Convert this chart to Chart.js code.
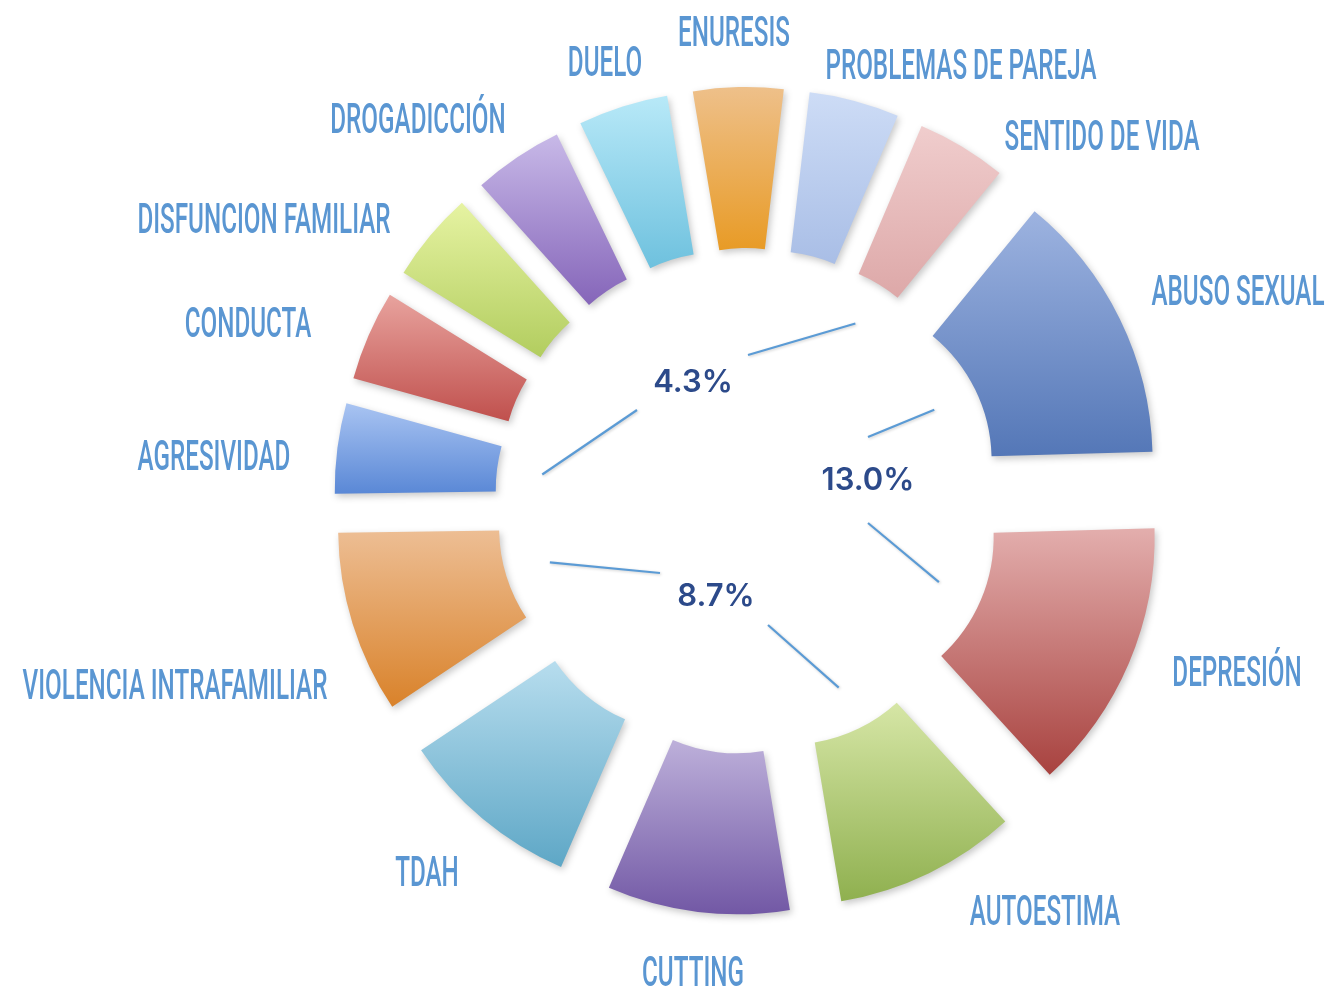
<!DOCTYPE html>
<html>
<head>
<meta charset="utf-8">
<script src="https://cdn.jsdelivr.net/npm/chart.js@4.4.1/dist/chart.umd.min.js"></script>
<style>
  html, body { margin: 0; padding: 0; background: #ffffff; }
  #wrap { width: 1332px; height: 996px; position: relative; }
</style>
</head>
<body>
<div id="wrap"><canvas id="c"></canvas></div>
<script>
// ---------- DATA ----------
const categories = [
  'ABUSO SEXUAL', 'DEPRESIÓN', 'AUTOESTIMA', 'CUTTING', 'TDAH',
  'VIOLENCIA INTRAFAMILIAR', 'AGRESIVIDAD', 'CONDUCTA', 'DISFUNCION FAMILIAR',
  'DROGADICCIÓN', 'DUELO', 'ENURESIS', 'PROBLEMAS DE PAREJA', 'SENTIDO DE VIDA'
];
const percentValues = [13.0, 13.0, 8.7, 8.7, 8.7, 8.7, 4.3, 4.3, 4.3, 4.3, 4.3, 4.3, 4.3, 4.3];
// which slices each shared percentage label points to
const calloutTargets = [[13, 6], [0, 1], [5, 2]];

// ---------- STYLE / LAYOUT ----------
const sliceGradients = [
  ['#9DB3E0', '#5477B7'],
  ['#E3AEAD', '#A8423F'],
  ['#D6E6A6', '#8FB04F'],
  ['#BDB0DA', '#7258A5'],
  ['#B7DDEE', '#5EA7C6'],
  ['#EDBE94', '#D9822A'],
  ['#A9C4F2', '#5A88D6'],
  ['#E8A39E', '#C0504D'],
  ['#E6F3A2', '#B2CD5F'],
  ['#C8B9E8', '#8565B9'],
  ['#B8E9F8', '#6EC1DE'],
  ['#EEC08A', '#E89B26'],
  ['#CDDCF6', '#A9BEE6'],
  ['#F0CDCD', '#DDA8A8']
];
const RADIUS = 322;
const EXPLODE = 92;
// category label centres, relative to chart centre, in units of RADIUS
const labelOffsets = [
  [490, -211], [489, 170], [297, 409], [-55, 470], [-321, 370],
  [-573, 183], [-534, -46], [-500, -179], [-484, -283], [-330, -383],
  [-143, -440], [-14, -470], [213, -437], [354, -366]
].map(p => [p[0] / RADIUS, p[1] / RADIUS]);
// percentage label centres, relative to chart centre, in units of RADIUS
const calloutOffsets = [[-55, -118], [120, -20], [-32, 96]].map(p => [p[0] / RADIUS, p[1] / RADIUS]);
// leader-line start points, relative to each percentage label centre (px)
const leaderStarts = [[[55, -28], [-56, 27]], [[0, -44], [0, 42]], [[-56, -24], [52, 28]]];

const explodePlugin = {
  id: 'explode',
  afterDatasetUpdate(chart, args) {
    const meta = chart.getDatasetMeta(args.index);
    meta.data.forEach((el, i) => {
      if (el._patched) return;
      el._patched = true;
      el.draw = function (ctx) {
        const mid = (this.startAngle + this.endAngle) / 2;
        const ox = Math.cos(mid) * EXPLODE, oy = Math.sin(mid) * EXPLODE;
        let ymin = Infinity, ymax = -Infinity;
        for (let k = 0; k <= 24; k++) {
          const a = this.startAngle + (this.endAngle - this.startAngle) * k / 24;
          for (const r of [this.innerRadius, this.outerRadius]) {
            const y = this.y + Math.sin(a) * r;
            ymin = Math.min(ymin, y); ymax = Math.max(ymax, y);
          }
        }
        const g = ctx.createLinearGradient(0, ymin, 0, ymax);
        g.addColorStop(0, sliceGradients[i][0]);
        g.addColorStop(1, sliceGradients[i][1]);
        ctx.save();
        ctx.translate(ox, oy);
        ctx.shadowColor = 'rgba(0,0,0,0.22)';
        ctx.shadowBlur = 7;
        ctx.shadowOffsetX = 2;
        ctx.shadowOffsetY = 3;
        const opts = this.options;
        this.options = Object.assign({}, opts, { backgroundColor: g });
        Chart.ArcElement.prototype.draw.call(this, ctx);
        this.options = opts;
        ctx.restore();
      };
    });
  }
};

const textPlugin = {
  id: 'texts',
  afterDraw(chart) {
    const ctx = chart.ctx;
    const meta = chart.getDatasetMeta(0);
    const arcs = meta.data;
    if (!arcs.length) return;
    const cx = arcs[0].x, cy = arcs[0].y, R = arcs[0].outerRadius, rin = arcs[0].innerRadius;

    // category labels (condensed)
    ctx.save();
    const fs = 43;
    ctx.font = `500 ${fs}px Roboto`;
    const sx = 173 / ctx.measureText('ABUSO SEXUAL').width;
    ctx.fillStyle = '#5A96D2';
    ctx.textAlign = 'center';
    ctx.textBaseline = 'alphabetic';
    categories.forEach((t, i) => {
      const x = cx + labelOffsets[i][0] * R;
      const y = cy + labelOffsets[i][1] * R + fs * 0.711 / 2;
      ctx.save();
      ctx.translate(x, y);
      ctx.scale(sx, 1);
      ctx.fillText(t, 0, 0);
      ctx.restore();
    });
    ctx.restore();

    // percentage callouts
    ctx.save();
    ctx.font = '600 31px Inter';
    ctx.textAlign = 'center';
    ctx.textBaseline = 'middle';
    calloutTargets.forEach((targets, k) => {
      const lx = cx + calloutOffsets[k][0] * R;
      const ly = cy + calloutOffsets[k][1] * R;
      targets.forEach((idx, j) => {
        const a = arcs[idx];
        const mid = (a.startAngle + a.endAngle) / 2;
        const dist = (rin + EXPLODE) * 0.82;
        const ex = cx + Math.cos(mid) * dist, ey = cy + Math.sin(mid) * dist;
        ctx.beginPath();
        ctx.moveTo(lx + leaderStarts[k][j][0], ly + leaderStarts[k][j][1]);
        ctx.lineTo(ex, ey);
        ctx.strokeStyle = '#5B9BD5';
        ctx.lineWidth = 2.2;
        ctx.shadowColor = 'rgba(0,0,0,0.2)';
        ctx.shadowBlur = 3;
        ctx.shadowOffsetX = 1;
        ctx.shadowOffsetY = 1;
        ctx.stroke();
      });
      ctx.shadowColor = 'rgba(0,0,0,0)';
      ctx.fillStyle = '#2C4A8A';
      ctx.fillText(percentValues[targets[0]].toFixed(1) + '%', lx, ly);
    });
    ctx.restore();
  }
};

new Chart(document.getElementById('c'), {
  type: 'doughnut',
  data: {
    labels: categories,
    datasets: [{
      data: percentValues,
      backgroundColor: sliceGradients.map(g => g[1]),
      borderWidth: 0,
      borderColor: 'rgba(0,0,0,0)',
      clip: false
    }]
  },
  options: {
    responsive: true,
    maintainAspectRatio: false,
    animation: false,
    events: [],
    rotation: 39.3,
    radius: RADIUS,
    cutout: '50%',
    layout: { padding: { left: 164, right: 0, top: 6, bottom: 0 } },
    plugins: { legend: { display: false }, tooltip: { enabled: false } }
  },
  plugins: [explodePlugin, textPlugin]
});
</script>
</body>
</html>
